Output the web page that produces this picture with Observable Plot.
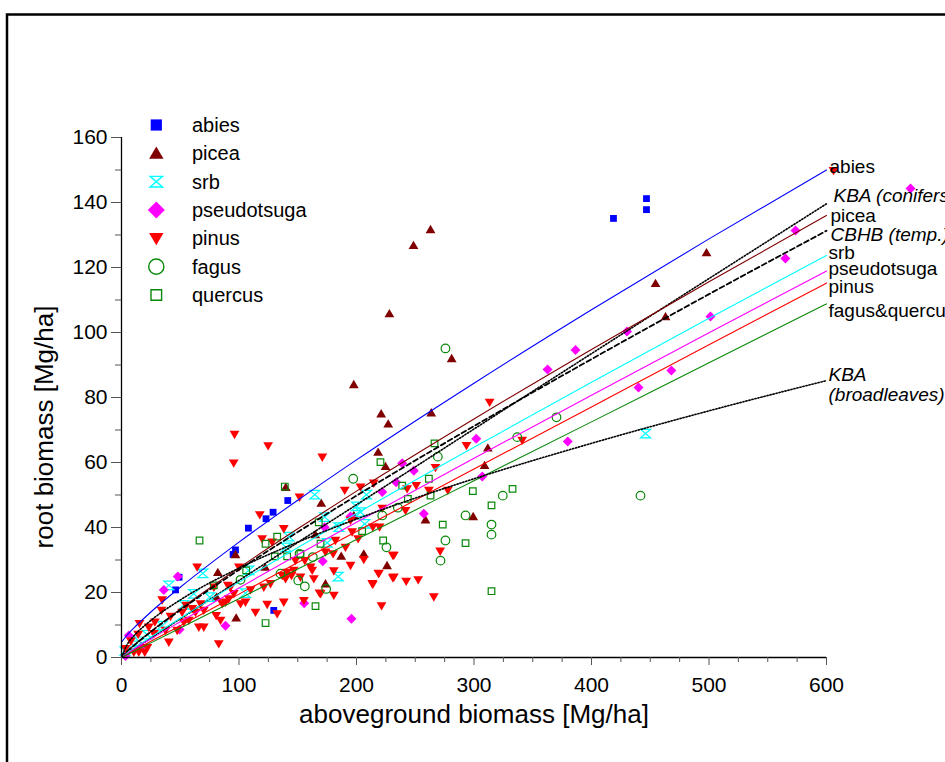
<!DOCTYPE html>
<html>
<head>
<meta charset="utf-8">
<script src="https://cdn.jsdelivr.net/npm/d3@7"></script>
<script src="https://cdn.jsdelivr.net/npm/@observablehq/plot@0.6"></script>
<style>
  html, body { margin: 0; padding: 0; background: #fff; overflow: hidden; }
  #chart { position: relative; width: 945px; height: 762px; }
</style>
</head>
<body>
<div id="chart"></div>
<script>
// ---------------- data ----------------
const abies = [[46,20.8],[49,24.7],[95,31.7],[97,33.1],[108,39.8],[123,42.7],[129,44.7],[141.5,48.3],[129.6,14.5],[418.7,135.1],[446.8,141.2],[446.8,137.8]];

const picea = [[263,131.7],[248.5,126.8],[228,105.8],[197.7,84],[221,75],[227,71.9],[263.6,75.3],[281,92],[218.4,63.2],[224.7,58.8],[170,47.5],[165,37.8],[197.7,43.7],[258.7,42.4],[299.3,43.4],[187,31.2],[206.2,31.9],[226,28.3],[173.6,22.7],[309,59.1],[311.8,64.5],[139.8,52.4],[97,31.7],[82,26.2],[122.3,27.8],[97.6,12.2],[80.9,18.6],[497.9,124.6],[454.5,115.1],[463,104.9]];

const srb = [[446,68.9],[164.5,50.1],[208.5,50.1],[200,46.5],[203.4,44.7],[207,41.1],[185,40.1],[173,43.2],[175,35.3],[184.4,24.9],[69.2,25.9],[40.3,22.2],[53,16.2],[61.5,19.6],[75.2,18.6],[108.3,26.8],[105.5,19.8],[140.2,33.9],[142.4,37.2],[34.6,9.8],[10.5,3.7],[22,7],[3,2],[15,5]];

const pseudotsuga = [[671.5,144.3],[573.6,131.4],[565,122.8],[501.3,104.9],[468,88.3],[440,83.1],[430.2,100.3],[386.4,94.6],[362.6,88.6],[379.8,66.5],[301.9,67.3],[238.9,59.8],[248.8,57.5],[233.8,53.9],[221.9,50.9],[307,55.7],[257.3,44.2],[172.8,40.1],[171.3,29.6],[194.9,43.4],[155.5,16.7],[195.7,11.9],[47.9,24.9],[36,20.8],[88.5,9.8],[49.4,8.6],[6.2,6.8],[17,3.4],[3.4,0.5]];

const pinus = [[606,149.8],[313.3,78.5],[96.2,68.6],[124.8,65.1],[95.5,59.8],[170.9,61.6],[151.5,49.3],[190,51.4],[203.4,52.4],[214.7,53.6],[293.6,65.2],[341,66.8],[267.2,58.4],[250.8,52.9],[243.1,51.9],[261.6,51.4],[277.7,51.4],[241.7,45.2],[221.9,45.9],[194.9,42.2],[196.3,38.6],[213.9,40.1],[219.6,40.1],[201.4,36.5],[190.6,33.9],[182.1,36],[173.6,32.4],[180.1,31.9],[206.2,30.1],[230.9,31.4],[162.3,26.8],[168.5,19.8],[180.7,26.6],[156,29.8],[155.2,17.5],[148,29.8],[144.7,25.2],[218.7,25.9],[213.9,22.5],[230.9,24.5],[242.3,23.4],[252.5,23.9],[221.3,15.9],[265.8,18.6],[271.2,32.7],[117.7,43.9],[119.7,36.5],[138.1,39.6],[128.2,35.5],[99.9,27.8],[64.4,27.8],[90.5,22.2],[78.6,21.6],[34,14.5],[41.7,12.6],[28.4,10.9],[23.2,9.3],[15.3,10.4],[14.2,7.1],[3.4,2.7],[14.7,1.6],[19.8,1.6],[37.4,8.3],[40.3,4.7],[51.6,13.9],[57.3,11.4],[63,13.9],[55,16],[70,14.5],[65.8,9.3],[84.3,11.4],[80.6,12.9],[82.8,4.2],[88.5,17],[95.6,19.6],[105.5,17],[114,13.9],[124,16.3],[132.5,13.4],[138.1,17],[109.8,20.8],[121.1,21.6],[126.8,22.7],[136.8,25.2],[141,26.2],[92.8,21.6],[34.6,17.7],[27.5,7.3],[47.4,8.3],[53,10.9],[60.2,15],[67.2,16.5],[70,9.3],[85.7,16.5],[91.3,18],[101.3,16.5],[139.6,24.2],[146.6,26.8],[152.3,24.7],[160.9,27.8],[163.7,24.2],[180.7,19.1],[169.4,19.6],[194.9,28.3],[213.4,22.7],[219,25.8],[231.8,31.4],[231.8,24.7],[10.5,1.6],[8,5],[22,3]];

const fagus = [[370.2,73.9],[336.8,67.8],[269.2,61.8],[324.5,49.8],[292.8,43.7],[314.9,40.9],[314.9,37.8],[275.7,36],[271.5,29.8],[441.7,49.8],[235.2,46.1],[221.9,43.7],[225.5,33.9],[275.7,95.1],[197.2,55],[151.5,31.9],[162.8,30.9],[150.4,23.7],[156,21.9],[174.2,21.1],[101.3,23.9],[135.3,25.8]];

const quercus = [[266.4,65.9],[261.6,55],[238.9,52.9],[243.7,48.8],[263,49.8],[299,51.2],[332.8,51.9],[314.9,46.8],[273.4,40.9],[292.8,35.2],[222.7,36],[314.9,20.4],[220.4,60.1],[204.8,38.9],[167.9,41.6],[169.4,35],[165.1,15.8],[139,52.6],[66.4,36],[78.6,22.2],[106.1,26.8],[132.5,37.2],[122.6,35],[130.5,31.1],[141,31.1],[122.6,10.6],[152.3,31.9]];

// fitted curves, values
const curveX          = [0,  5,   10,  25,   50,   100,  150,  200,  300,  400,   500,   600];
const fitAbies        = [4.7,7.0, 8.9, 14.0, 21.6, 35.5, 48.4, 60.8, 84.4, 107.0, 128.8, 150.0];
const fitPicea        = [0,  1.9, 3.6, 8.0,  14.9, 27.6, 39.6, 51.2, 73.4, 94.8,  115.6, 136.0];
const fitSrb          = [0,  1.4, 2.7, 6.3,  12.1, 23.2, 33.8, 44.3, 64.7, 84.7,  104.4, 123.7];
const fitPseudotsuga  = [0,  1.2, 2.4, 5.7,  11.0, 21.4, 31.6, 41.6, 61.3, 80.7,  99.9,  118.9];
const fitPinus        = [0,  1.0, 2.0, 5.0,  9.8,  19.5, 29.2, 38.8, 58.0, 77.1,  96.2,  115.2];
const fitFagusQuercus = [0,  0.9, 1.8, 4.5,  9.1,  18.1, 27.2, 36.3, 54.4, 72.5,  90.7,  108.8];
const kbaConifers     = [0,  1.2, 2.4, 6.0,  11.9, 23.7, 35.4, 47.0, 70.3, 93.5,  116.6, 139.6];
const cbhbTemperate   = [0,  1.9, 3.5, 7.9,  14.6, 27.0, 38.6, 49.8, 71.2, 91.8,  111.8, 131.3];
const kbaBroadleaves  = [0,  4.1, 6.4, 11.4, 17.7, 27.5, 35.5, 42.6, 55.0, 65.9,  75.9,  85.2];

const speciesNames = ["abies","picea","srb","pseudotsuga","pinus","fagus","quercus"];
const xTicks = [0,100,200,300,400,500,600];
const yTicks = [0,20,40,60,80,100,120,140,160];
const xLabel = "aboveground biomass [Mg/ha]";
const yLabel = "root biomass [Mg/ha]";

// ---------------- symbols ----------------
const R = s => Math.sqrt(s / Math.PI);
const symSquare = {draw(c, s){ const r = R(s); c.rect(-r, -r, 2*r, 2*r); }};
const symTriUp = {draw(c, s){ const r = R(s); c.moveTo(0, -r*0.95); c.lineTo(r, r*0.75); c.lineTo(-r, r*0.75); c.closePath(); }};
const symTriDown = {draw(c, s){ const r = R(s); c.moveTo(0, r*0.95); c.lineTo(r, -r*0.75); c.lineTo(-r, -r*0.75); c.closePath(); }};
const symDiamond = {draw(c, s){ const r = R(s); c.moveTo(0, -r); c.lineTo(r, 0); c.lineTo(0, r); c.lineTo(-r, 0); c.closePath(); }};
const symHourglass = {draw(c, s){ const r = R(s); c.moveTo(-r, -r*0.85); c.lineTo(r, -r*0.85); c.lineTo(-r, r*0.85); c.lineTo(r, r*0.85); c.closePath(); }};
const symCircle = {draw(c, s){ const r = R(s); c.moveTo(r, 0); c.arc(0, 0, r, 0, 2*Math.PI); }};

const GREEN = "#0a880a";
const style = {
  abies:       {symbol: symSquare,    fill: "#0000ff", stroke: "none",   r: 3.4, lr: 5.6},
  picea:       {symbol: symTriUp,     fill: "#800000", stroke: "none",   r: 4.9, lr: 7.2},
  srb:         {symbol: symHourglass, fill: "none",    stroke: "#00ffff",r: 5.0, lr: 6.2},
  pseudotsuga: {symbol: symDiamond,   fill: "#ff00ff", stroke: "none",   r: 5.0, lr: 8.5},
  pinus:       {symbol: symTriDown,   fill: "#ff0000", stroke: "none",   r: 4.9, lr: 7.2},
  fagus:       {symbol: symCircle,    fill: "none",    stroke: GREEN,    r: 4.3, lr: 7.6},
  quercus:     {symbol: symSquare,    fill: "none",    stroke: GREEN,    r: 3.3, lr: 5.3}
};
const speciesData = {abies, picea, srb, pseudotsuga, pinus, fagus, quercus};

const curves = [
  {name: "abies",         ys: fitAbies,        stroke: "#0000ff", w: 1.1, dash: null,      italic: false, dx: 3, dy: -3.5},
  {name: "KBA (conifers)",ys: kbaConifers,     stroke: "#000",    w: 1.6, dash: "1.3,1.8", italic: true,  dx: 7, dy: -8},
  {name: "picea",         ys: fitPicea,        stroke: "#800000", w: 1.1, dash: null,      italic: false, dx: 4, dy: 0},
  {name: "CBHB (temp.)",  ys: cbhbTemperate,   stroke: "#000",    w: 1.8, dash: "5,3",     italic: true,  dx: 4, dy: 4},
  {name: "srb",           ys: fitSrb,          stroke: "#00ffff", w: 1.1, dash: null,      italic: false, dx: 2, dy: -3},
  {name: "pseudotsuga",   ys: fitPseudotsuga,  stroke: "#ff00ff", w: 1.1, dash: null,      italic: false, dx: 2, dy: -2},
  {name: "pinus",         ys: fitPinus,        stroke: "#ff0000", w: 1.1, dash: null,      italic: false, dx: 2, dy: 3.5},
  {name: "fagus&quercus", ys: fitFagusQuercus, stroke: GREEN,     w: 1.1, dash: null,      italic: false, dx: 2, dy: 6.5},
  {name: "KBA\n(broadleaves)", ys: kbaBroadleaves, stroke: "#000", w: 1.6, dash: "1.3,1.8", italic: true, dx: 2, dy: 4}
];

const FONT = "'Liberation Sans', Arial, Helvetica, sans-serif";

const marks = [];
// points
for (const name of speciesNames) {
  const st = style[name];
  marks.push(Plot.dot(speciesData[name], {
    x: d => d[0], y: d => d[1], symbol: st.symbol, r: st.r,
    fill: st.fill, stroke: st.stroke, strokeWidth: 1.2
  }));
}
// curves
for (const c of curves) {
  const pts = curveX.map((x, i) => ({x, y: c.ys[i]}));
  marks.push(Plot.line(pts, {x: "x", y: "y", stroke: c.stroke, strokeWidth: c.w,
    strokeDasharray: c.dash ?? undefined, curve: "monotone-x"}));
  const last = pts[pts.length - 1];
  marks.push(Plot.text([last], {x: "x", y: "y", text: () => c.name, textAnchor: "start",
    dx: c.dx, dy: c.dy, fontSize: 19, fontStyle: c.italic ? "italic" : "normal",
    fill: "#000", lineHeight: 1.03}));
}
// axes
marks.push(
  Plot.ruleY([0], {x1: 0, x2: 600, stroke: "#000", strokeWidth: 1.3}),
  Plot.ruleX([0], {y1: 0, y2: 160, stroke: "#000", strokeWidth: 1.3}),
  Plot.axisX(xTicks, {tickSize: 8, tickPadding: 12, fontSize: 21, stroke: "#555", label: null}),
  Plot.axisX(d3.range(25, 600, 25).filter(v => v % 100), {tickSize: 5, text: null, stroke: "#555", label: null}),
  Plot.axisY(yTicks, {tickSize: 10, tickPadding: 4, fontSize: 21, stroke: "#555", label: null}),
  Plot.axisY(d3.range(10, 160, 20), {tickSize: 6, text: null, stroke: "#555", label: null})
);

const svg = Plot.plot({
  width: 945,
  height: 762,
  marginLeft: 121,
  marginRight: 119,
  marginTop: 137,
  marginBottom: 105,
  x: {domain: [0, 600]},
  y: {domain: [0, 160]},
  style: {fontFamily: FONT, background: "#fff", color: "#000", overflow: "hidden"},
  marks
});
document.getElementById("chart").appendChild(svg);

// ---------------- decorations: frame, axis titles, legend ----------------
const s = d3.select(svg);
s.append("rect").attr("x", 7).attr("y", 14.5).attr("width", 1200).attr("height", 1200)
  .attr("fill", "none").attr("stroke", "#000").attr("stroke-width", 2.5);

s.append("text").attr("x", 474).attr("y", 714).attr("text-anchor", "middle")
  .attr("dominant-baseline", "central").attr("font-size", 26).attr("font-family", FONT)
  .text(xLabel);
s.append("text").attr("transform", "translate(44,427) rotate(-90)").attr("text-anchor", "middle")
  .attr("dominant-baseline", "central").attr("font-size", 26).attr("font-family", FONT)
  .text(yLabel);

const lg = s.append("g").attr("text-anchor", "start");
speciesNames.forEach((name, i) => {
  const st = style[name];
  const y = 125 + i * 28.33;
  lg.append("path")
    .attr("transform", `translate(156.3,${y})`)
    .attr("d", d3.symbol().type(st.symbol).size(Math.PI * st.lr * st.lr)())
    .attr("fill", st.fill).attr("stroke", st.stroke).attr("stroke-width", 1.4);
  lg.append("text").attr("x", 192).attr("y", y).attr("dominant-baseline", "central")
    .attr("text-anchor", "start")
    .attr("font-size", 20).attr("font-family", FONT).text(name);
});
</script>
</body>
</html>
